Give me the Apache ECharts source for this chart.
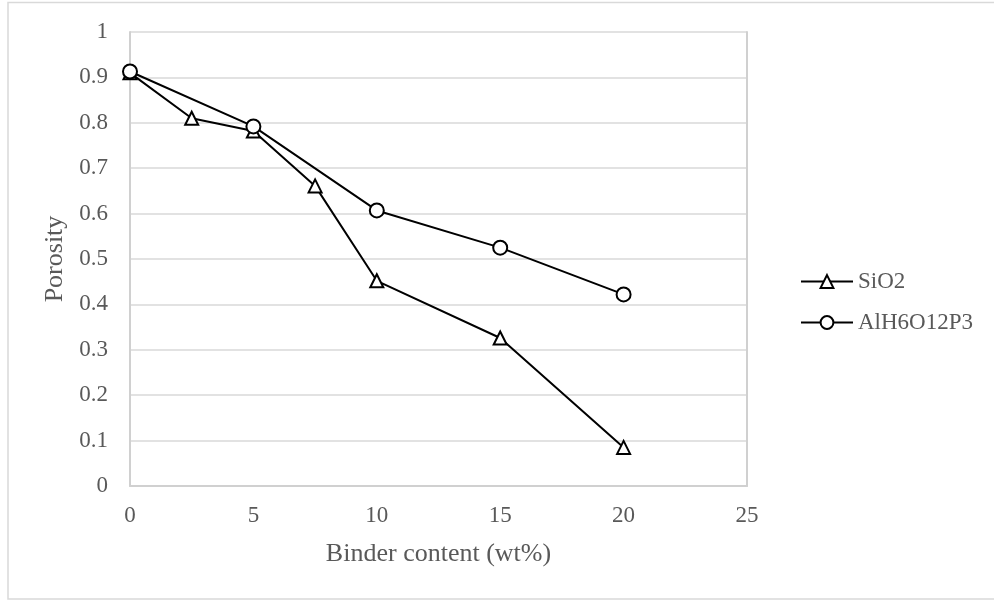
<!DOCTYPE html>
<html>
<head>
<meta charset="utf-8">
<script src="https://cdn.jsdelivr.net/npm/echarts@6/dist/echarts.min.js"></script>
<style>
  html, body { margin: 0; padding: 0; background: #fff; }
  #chart { width: 994px; height: 602px; }
</style>
</head>
<body>
<div id="chart"></div>
<script>
// Porosity versus binder content for two binders
const sio2X = [0, 2.5, 5, 7.5, 10, 15, 20];
const sio2Y = [0.91, 0.81, 0.782, 0.661, 0.452, 0.326, 0.085];
const alpX = [0, 5, 10, 15, 20];
const alpY = [0.913, 0.792, 0.607, 0.525, 0.422];
const seriesNames = ['SiO2', 'AlH6O12P3'];
const xTitle = 'Binder content (wt%)';
const yTitle = 'Porosity';

const font = '"Liberation Serif", "Times New Roman", serif';
const zip = (xs, ys) => xs.map((x, i) => [x, ys[i]]);

const chart = echarts.init(document.getElementById('chart'));

const markerStyle = { color: '#ffffff', borderColor: '#000000', borderWidth: 2 };
const lineStyle = { color: '#000000', width: 2 };
const frameLine = { show: true, lineStyle: { color: '#d0d0d0', width: 2 } };

chart.setOption({
  animation: false,
  backgroundColor: '#ffffff',
  graphic: [{
    type: 'rect',
    shape: { x: 8, y: 2.5, width: 1000, height: 596.5 },
    style: { fill: 'none', stroke: '#d9d9d9', lineWidth: 1.5 },
    silent: true
  }],
  grid: { left: 130, right: 247, top: 32, bottom: 116 },
  xAxis: {
    type: 'value', min: 0, max: 25, interval: 5,
    name: xTitle, nameLocation: 'middle', nameGap: 55,
    nameTextStyle: { fontFamily: font, fontSize: 26, color: '#595959' },
    axisLine: frameLine,
    axisTick: { show: false },
    axisLabel: { fontFamily: font, fontSize: 23, color: '#595959', margin: 18 },
    splitLine: { show: false }
  },
  yAxis: [{
    type: 'value', min: 0, max: 1, interval: 0.1,
    name: yTitle, nameLocation: 'middle', nameGap: 61,
    nameTextStyle: { fontFamily: font, fontSize: 26, color: '#595959' },
    axisLine: frameLine,
    axisTick: { show: false },
    axisLabel: { fontFamily: font, fontSize: 23, color: '#595959', margin: 22 },
    splitLine: { show: true, lineStyle: { color: '#d9d9d9', width: 1.5 } }
  }, {
    // right-hand frame edge of the plot area
    type: 'value', min: 0, max: 1, interval: 0.1, position: 'right',
    axisLine: frameLine,
    axisTick: { show: false },
    axisLabel: { show: false },
    splitLine: { show: false }
  }],
  legend: {
    orient: 'vertical', left: 795, top: 265,
    itemWidth: 52, itemHeight: 16, itemGap: 18,
    textStyle: { fontFamily: font, fontSize: 23, color: '#595959' },
    data: seriesNames
  },
  series: [
    {
      name: seriesNames[0], type: 'line',
      data: zip(sio2X, sio2Y),
      symbol: 'triangle', symbolSize: 13,
      itemStyle: markerStyle, lineStyle: lineStyle
    },
    {
      name: seriesNames[1], type: 'line',
      data: zip(alpX, alpY),
      symbol: 'circle', symbolSize: 14,
      itemStyle: markerStyle, lineStyle: lineStyle
    }
  ]
});
</script>
</body>
</html>
